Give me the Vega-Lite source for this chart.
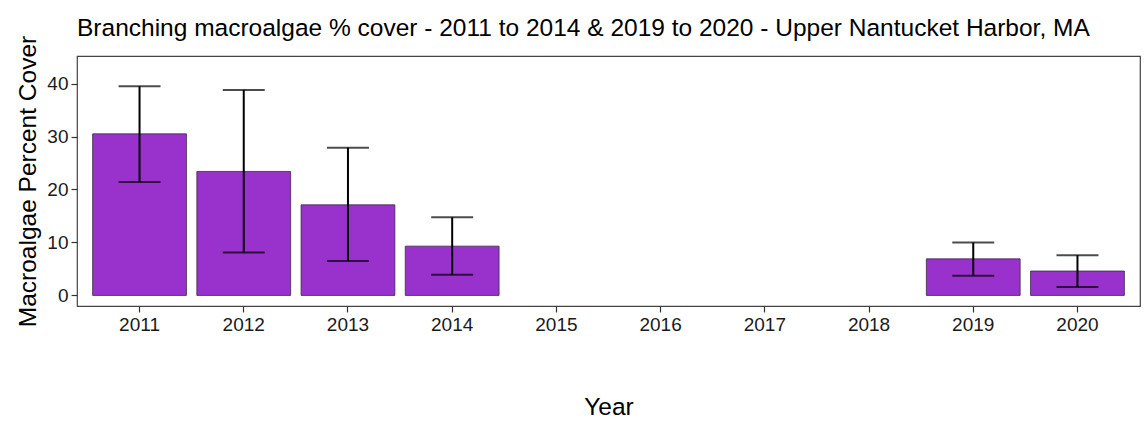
{
  "$schema": "https://vega.github.io/schema/vega-lite/v6.json",
  "width": 1063,
  "height": 250,
  "autosize": {"type": "none"},
  "padding": {"left": 77, "top": 56, "right": 4, "bottom": 125},
  "background": "white",
  "config": {
    "font": "Liberation Sans",
    "view": {"stroke": "#444444", "strokeWidth": 1.2},
    "axis": {"grid": false, "domain": false, "tickColor": "#333333", "tickSize": 6, "tickWidth": 1.2, "labelColor": "#1a1a1a", "labelFontSize": 19, "labelPadding": 3, "titleColor": "black", "titleFontWeight": "normal", "labelFont": "Liberation Sans", "titleFont": "Liberation Sans"}
  },
  "title": {"text": "Branching macroalgae % cover - 2011 to 2014 & 2019 to 2020 - Upper Nantucket Harbor, MA", "anchor": "start", "frame": "group", "fontSize": 24.5, "font": "Liberation Sans", "fontWeight": "normal", "color": "black", "offset": -6},
  "data": {"values": [
    {"year": "2011", "mean": 30.5, "lower": 21.4, "upper": 39.5},
    {"year": "2012", "mean": 23.4, "lower": 8.1, "upper": 38.8},
    {"year": "2013", "mean": 17.1, "lower": 6.5, "upper": 27.9},
    {"year": "2014", "mean": 9.3, "lower": 3.9, "upper": 14.75},
    {"year": "2019", "mean": 6.9, "lower": 3.7, "upper": 10.0},
    {"year": "2020", "mean": 4.6, "lower": 1.6, "upper": 7.6}
  ]},
  "encoding": {
    "x": {"field": "year", "type": "ordinal", "title": "Year",
      "scale": {"domain": ["2011","2012","2013","2014","2015","2016","2017","2018","2019","2020"], "paddingInner": 0.1, "paddingOuter": 0.15},
      "axis": {"labelAngle": 0, "labelFontSize": 19, "titleFontSize": 24.5, "titlePadding": 61}}
  },
  "layer": [
    {"mark": {"type": "bar", "fill": "#9932CC", "stroke": "#3a2a44", "strokeWidth": 0.8},
     "encoding": {"y": {"field": "mean", "type": "quantitative", "title": "Macroalgae Percent Cover",
       "scale": {"domain": [-2, 45.2], "nice": false, "zero": false},
       "axis": {"values": [0, 10, 20, 30, 40], "labelFontSize": 19, "titleFontSize": 24.5, "titlePadding": 6}}}},
    {"mark": {"type": "rule", "color": "black", "strokeWidth": 2},
     "encoding": {"y": {"field": "lower", "type": "quantitative"}, "y2": {"field": "upper"}}},
    {"mark": {"type": "tick", "color": "black", "thickness": 2, "size": 42},
     "encoding": {"y": {"field": "lower", "type": "quantitative"}}},
    {"mark": {"type": "tick", "color": "black", "thickness": 2, "size": 42},
     "encoding": {"y": {"field": "upper", "type": "quantitative"}}}
  ]
}
